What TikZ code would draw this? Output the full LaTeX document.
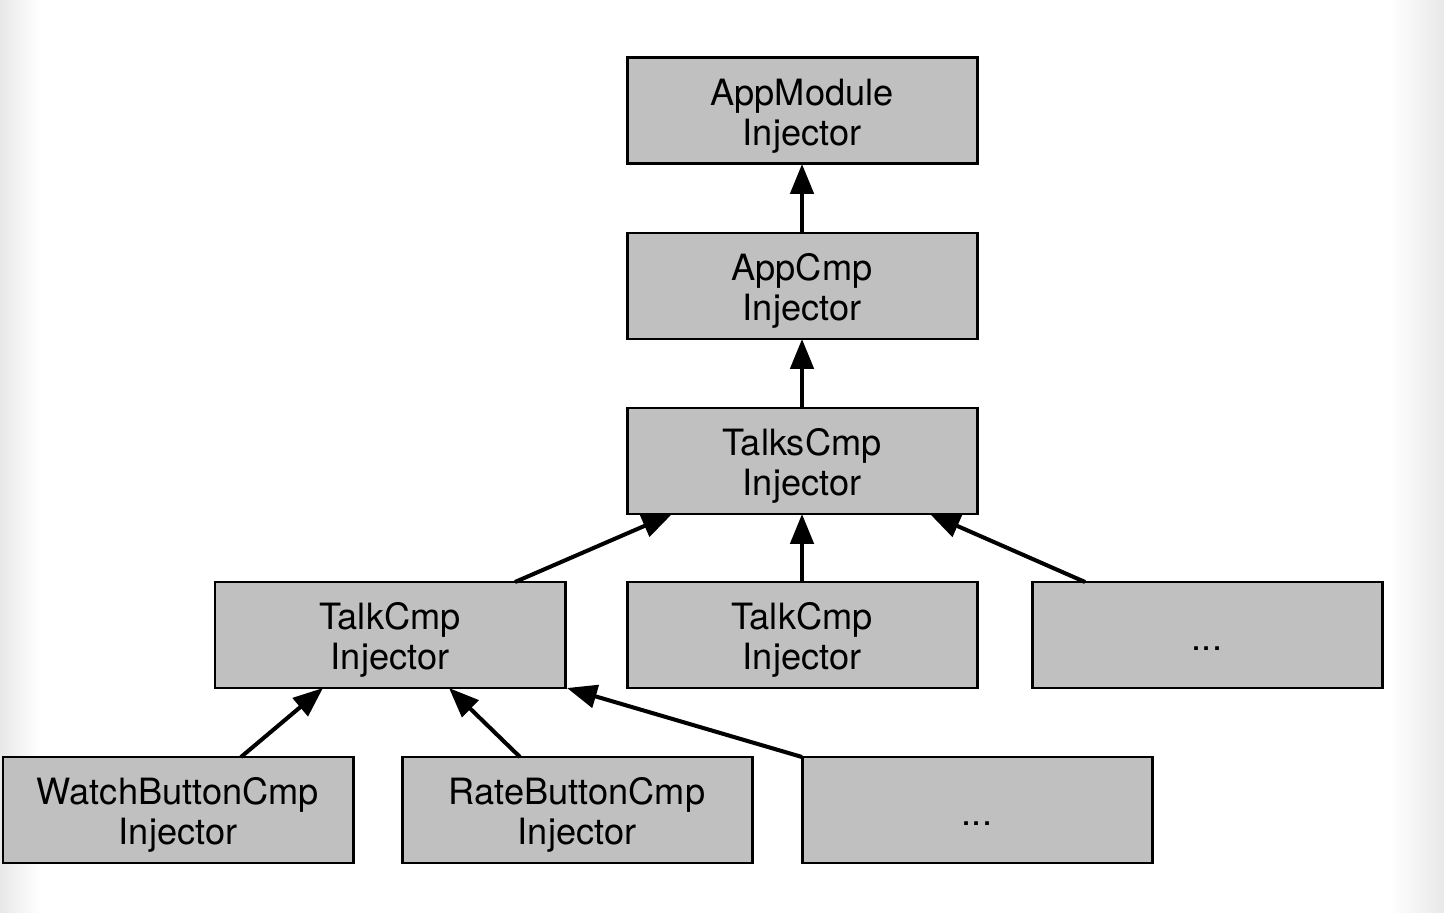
\documentclass[tikz,border=0pt]{standalone}
\usepackage{fontspec}
\setmainfont{TeX Gyre Heros}
\usetikzlibrary{
  arrows.meta,
  positioning
}
\definecolor{boxgray}{RGB}{192,192,192}

\begin{document}
\begin{tikzpicture}[
    injbox/.style={draw, line width=0.85pt, fill=boxgray, inner sep=0pt, outer sep=0pt,
      minimum width=3.5cm, minimum height=1.06cm, align=center,
      font=\fontsize{10.3}{11.4}\selectfont},
    twoline/.style={injbox, text height=21.6pt, text depth=2.2pt},
    dotsbox/.style={injbox, text height=9pt, text depth=0pt},
    parent/.style={line width=1.15pt, -{Triangle[length=8.5pt,width=6.6pt]}}
  ]
  \def\Xm{8.02};
  \def\Yl{2.77};
  \def\Yb{1.02};
  \useasboundingbox (0,0) rectangle (14.44,9.12);
  % soft edges of the page
  \shade[left color=black!9, right color=white] (0,0) rectangle (0.4,9.12);
  \shade[left color=white, right color=black!9] (13.9,0) rectangle (14.44,9.12);
         \node[twoline] (appmodule) at (\Xm, 8.01) {AppModule\\Injector};
         \node[twoline] (appcmp) at (\Xm, 6.26) {AppCmp\\Injector};
         \node[twoline] (talks) at (\Xm, 4.51) {TalksCmp\\Injector};
         \node[twoline] (talkA) at (3.90, \Yl) {TalkCmp\\Injector};
         \node[twoline] (talkB) at (\Xm, \Yl) {TalkCmp\\Injector};
         \node[dotsbox] (dotsA) at (12.07, \Yl) {...};
         \node[twoline] (watch) at (1.78, \Yb) {WatchButtonCmp\\Injector};
         \node[twoline] (rate) at (5.77, \Yb) {RateButtonCmp\\Injector};
         \node[dotsbox] (dotsB) at (9.77, \Yb) {...};
        \draw[parent] (appcmp) -- (appmodule);
        \draw[parent] (talks) -- (appcmp);
        \draw[parent] ([xshift=1.25cm]talkA.north) -- ([xshift=-1.30cm]talks.south);
        \draw[parent] (talkB) -- (talks);
        \draw[parent] ([xshift=-1.22cm]dotsA.north) -- ([xshift=1.28cm]talks.south);
        \draw[parent] ([xshift=0.63cm]watch.north) -- ([xshift=-0.67cm]talkA.south);
        \draw[parent] ([xshift=-0.57cm]rate.north) -- ([xshift=0.59cm]talkA.south);
        \draw[parent] (dotsB.north west) -- ([xshift=0.02cm]talkA.south east);
\end{tikzpicture}
\end{document}
